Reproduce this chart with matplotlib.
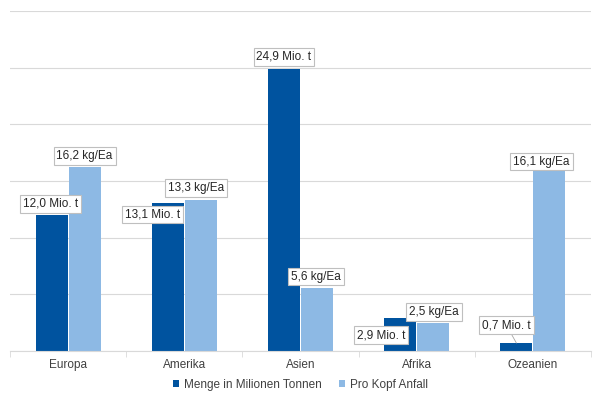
import matplotlib.pyplot as plt
import numpy as np

plt.rcParams['font.family'] = ['Liberation Sans', 'DejaVu Sans']

regions = ['Europa', 'Amerika', 'Asien', 'Afrika', 'Ozeanien']
menge = [12.0, 13.1, 24.9, 2.9, 0.7]
pro_kopf = [16.2, 13.3, 5.6, 2.5, 16.1]
menge_labels = ['12,0 Mio. t', '13,1 Mio. t', '24,9 Mio. t', '2,9 Mio. t', '0,7 Mio. t']
kopf_labels = ['16,2 kg/Ea', '13,3 kg/Ea', '5,6 kg/Ea', '2,5 kg/Ea', '16,1 kg/Ea']

# label offsets in pixels (dx, dy) from bar top centre, tuned by eye
menge_off = [(-1, 11), (-15, -12), (0, 12), (-19, -17), (-10, 18)]
kopf_off = [(0, 11), (-5, 12), (-1, 11), (1, 10.5), (-8, 7)]

dark = '#00539f'
light = '#8db9e4'

fig = plt.figure(figsize=(6.01, 4.0), dpi=100)
ax = fig.add_axes([10 / 601, 49 / 400, 581 / 601, 340 / 400])

x = np.arange(len(regions))
w = 0.275
off = 0.142
b1 = ax.bar(x - off, menge, w, color=dark, label='Menge in Milionen Tonnen', zorder=2)
b2 = ax.bar(x + off, pro_kopf, w, color=light, label='Pro Kopf Anfall', zorder=2)

box = dict(boxstyle='square,pad=0.25', fc='white', ec='#bfbfbf', lw=0.8)
for i in range(len(regions)):
    dx, dy = menge_off[i]
    arrow = None
    if i == 4:
        arrow = dict(arrowstyle='-', color='#a6a6a6', lw=0.6, shrinkA=0, shrinkB=0)
    ax.annotate(menge_labels[i], (x[i] - off, menge[i]), xytext=(dx, dy),
                textcoords='offset pixels', ha='center', va='center',
                fontsize=8.5, color='#262626', bbox=box, arrowprops=arrow, zorder=5)
    dx, dy = kopf_off[i]
    ax.annotate(kopf_labels[i], (x[i] + off, pro_kopf[i]), xytext=(dx, dy),
                textcoords='offset pixels', ha='center', va='center',
                fontsize=8.5, color='#262626', bbox=box, zorder=5)

ax.set_xlim(-0.5, len(regions) - 0.5)
ax.set_ylim(0, 30)
ax.set_yticks(np.arange(0, 31, 5))
ax.yaxis.grid(True, color='#d9d9d9', lw=0.8, zorder=0)
ax.tick_params(axis='y', left=False, labelleft=False)

ax.set_xticks(x)
ax.set_xticklabels(regions, fontsize=8.5, color='#404040')
ax.tick_params(axis='x', length=0, pad=6)
ax.set_xticks(np.arange(-0.5, len(regions), 1), minor=True)
ax.tick_params(axis='x', which='minor', length=4, color='#d9d9d9')

for s in ['top', 'right', 'left']:
    ax.spines[s].set_visible(False)
ax.spines['bottom'].set_color('#d9d9d9')

fig.legend(loc='center', bbox_to_anchor=(0.5, 15 / 400), ncol=2, frameon=False,
           fontsize=8.5, handlelength=0.5, handleheight=0.5, handletextpad=0.4,
           columnspacing=1.5, labelcolor='#404040')

fig.savefig('out.png', dpi=100)
